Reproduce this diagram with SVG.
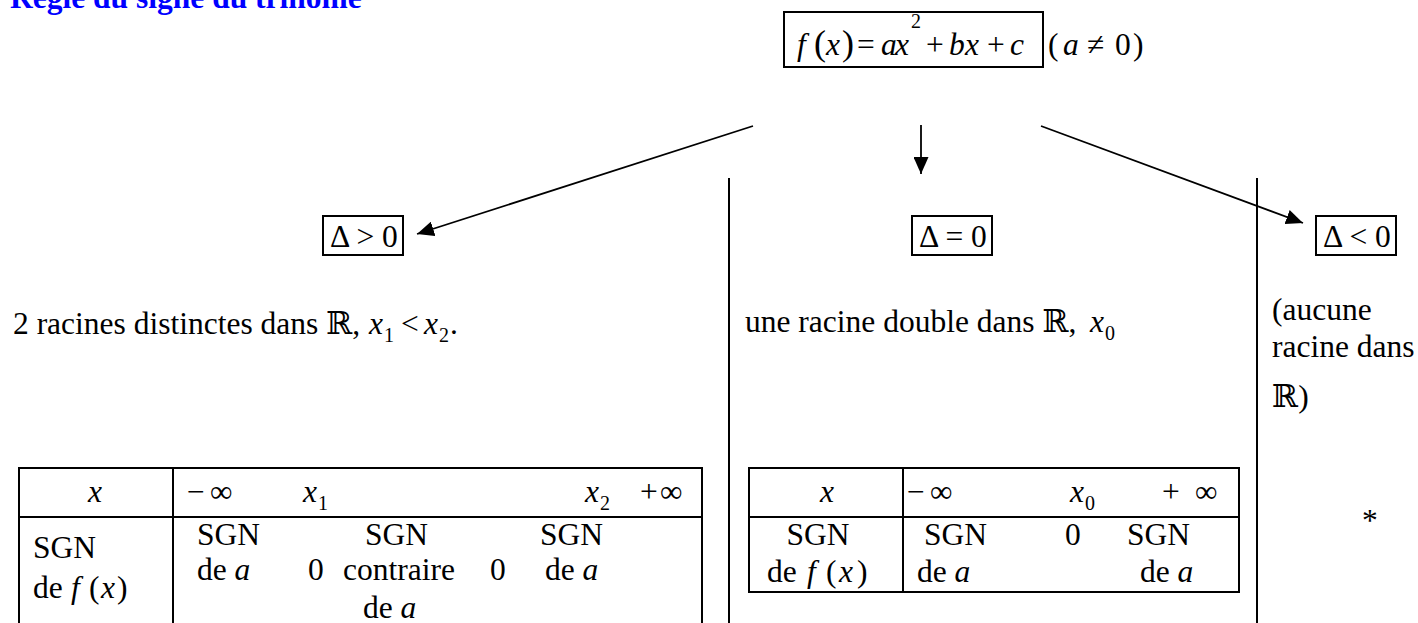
<svg xmlns="http://www.w3.org/2000/svg" width="1418" height="623" viewBox="0 0 1418 623">
<defs>
<style>
text{font-family:"Liberation Serif","DejaVu Serif",serif;font-size:31.5px;fill:#000}
.i{font-style:italic}
.sub{font-size:20px}
.ttl{font-weight:bold;fill:#0000FF}
.box{fill:none;stroke:#000;stroke-width:2}
.ln{stroke:#000;stroke-width:2;fill:none}
.conn{stroke:#000;stroke-width:1.8;fill:none;marker-end:url(#ah)}
.mid{text-anchor:middle}
</style>
<marker id="ah" markerUnits="userSpaceOnUse" markerWidth="18" markerHeight="15" refX="17" refY="7.5" orient="auto">
<path d="M0,0 L17,7.5 L0,15 z" fill="#000"/>
</marker>
</defs>
<rect width="1418" height="623" fill="#fff"/>

<g id="title"><text class="ttl" x="10" y="8">Règle du signe du trinôme</text></g>

<g id="formula">
<rect class="box" x="784" y="12" width="259" height="55"/>
<text y="55"><tspan class="i" x="797">f</tspan><tspan x="814" font-size="36">(</tspan><tspan class="i" x="826">x</tspan><tspan x="842" font-size="36">)</tspan><tspan x="857">=</tspan><tspan class="i" x="881">a</tspan><tspan class="i" x="895">x</tspan><tspan x="926">+</tspan><tspan class="i" x="949">b</tspan><tspan class="i" x="965">x</tspan><tspan x="987">+</tspan><tspan class="i" x="1010">c</tspan></text>
<text class="sub" x="911" y="28">2</text>
</g>
<g id="condition">
<text y="55"><tspan x="1048">(</tspan><tspan class="i" x="1063">a</tspan><tspan x="1087">≠</tspan><tspan x="1115">0</tspan><tspan x="1133">)</tspan></text>
</g>

<g id="connectors">
<line class="conn" x1="753" y1="126" x2="417" y2="234"/>
<line class="conn" x1="921" y1="125" x2="921" y2="174"/>
<line class="conn" x1="1041" y1="126" x2="1303" y2="223"/>
</g>

<g id="separators">
<line class="ln" x1="729" y1="178" x2="729" y2="623"/>
<line class="ln" x1="1257" y1="178" x2="1257" y2="623"/>
</g>

<g id="delta-pos">
<rect class="box" x="323" y="216" width="80" height="39"/>
<text x="330" y="247">Δ &gt; 0</text>
</g>
<g id="delta-zero">
<rect class="box" x="912" y="216" width="80" height="39"/>
<text x="919" y="247">Δ = 0</text>
</g>
<g id="delta-neg">
<rect class="box" x="1316" y="216" width="80" height="39"/>
<text x="1323" y="247">Δ &lt; 0</text>
</g>

<g id="roots-pos">
<text x="13" y="334">2 racines distinctes dans ℝ,</text>
<text y="334"><tspan class="i" x="369">x</tspan><tspan x="401">&lt;</tspan><tspan class="i" x="424">x</tspan><tspan x="450">.</tspan></text>
<text class="sub" y="342"><tspan x="384">1</tspan><tspan x="439">2</tspan></text>
</g>
<g id="roots-zero">
<text x="745" y="332">une racine double dans ℝ,</text>
<text class="i" x="1090" y="332">x</text>
<text class="sub" x="1105" y="340">0</text>
</g>
<g id="roots-neg">
<text x="1272" y="320">(aucune</text>
<text x="1272" y="357">racine dans</text>
<text x="1272" y="407">ℝ)</text>
<text x="1362" y="531">*</text>
</g>

<g id="table-pos">
<rect class="box" x="19" y="468" width="683" height="200"/>
<line class="ln" x1="19" y1="517" x2="702" y2="517"/>
<line class="ln" x1="173" y1="468" x2="173" y2="630"/>
<text class="i mid" x="95" y="502">x</text>
<text y="502"><tspan x="187">−</tspan><tspan x="210">∞</tspan><tspan class="i" x="303">x</tspan><tspan class="i" x="585">x</tspan><tspan x="640">+</tspan><tspan x="660">∞</tspan></text>
<text class="sub" y="510"><tspan x="318">1</tspan><tspan x="600">2</tspan></text>
<text x="33" y="558">SGN</text>
<text y="598"><tspan x="33">de</tspan><tspan class="i" x="71">f</tspan><tspan x="89">(</tspan><tspan class="i" x="101">x</tspan><tspan x="117">)</tspan></text>
<text y="545"><tspan x="197">SGN</tspan><tspan x="365">SGN</tspan><tspan x="540">SGN</tspan></text>
<text y="580"><tspan x="197">de </tspan><tspan class="i">a</tspan><tspan x="308">0</tspan><tspan x="343">contraire</tspan><tspan x="490">0</tspan><tspan x="545">de </tspan><tspan class="i">a</tspan></text>
<text y="618"><tspan x="363">de </tspan><tspan class="i">a</tspan></text>
</g>

<g id="table-zero">
<rect class="box" x="749" y="468" width="490" height="124"/>
<line class="ln" x1="749" y1="517" x2="1239" y2="517"/>
<line class="ln" x1="903" y1="468" x2="903" y2="592"/>
<text class="i mid" x="827" y="502">x</text>
<text y="502"><tspan x="907">−</tspan><tspan x="930">∞</tspan><tspan class="i" x="1070">x</tspan><tspan x="1162">+</tspan><tspan x="1195">∞</tspan></text>
<text class="sub" x="1085" y="510">0</text>
<text class="mid" x="818" y="545">SGN</text>
<text y="582"><tspan x="767">de</tspan><tspan class="i" x="807">f</tspan><tspan x="826">(</tspan><tspan class="i" x="839">x</tspan><tspan x="857">)</tspan></text>
<text y="545"><tspan x="924">SGN</tspan><tspan x="1065">0</tspan><tspan x="1127">SGN</tspan></text>
<text y="582"><tspan x="917">de </tspan><tspan class="i">a</tspan><tspan x="1140">de </tspan><tspan class="i">a</tspan></text>
</g>
</svg>
